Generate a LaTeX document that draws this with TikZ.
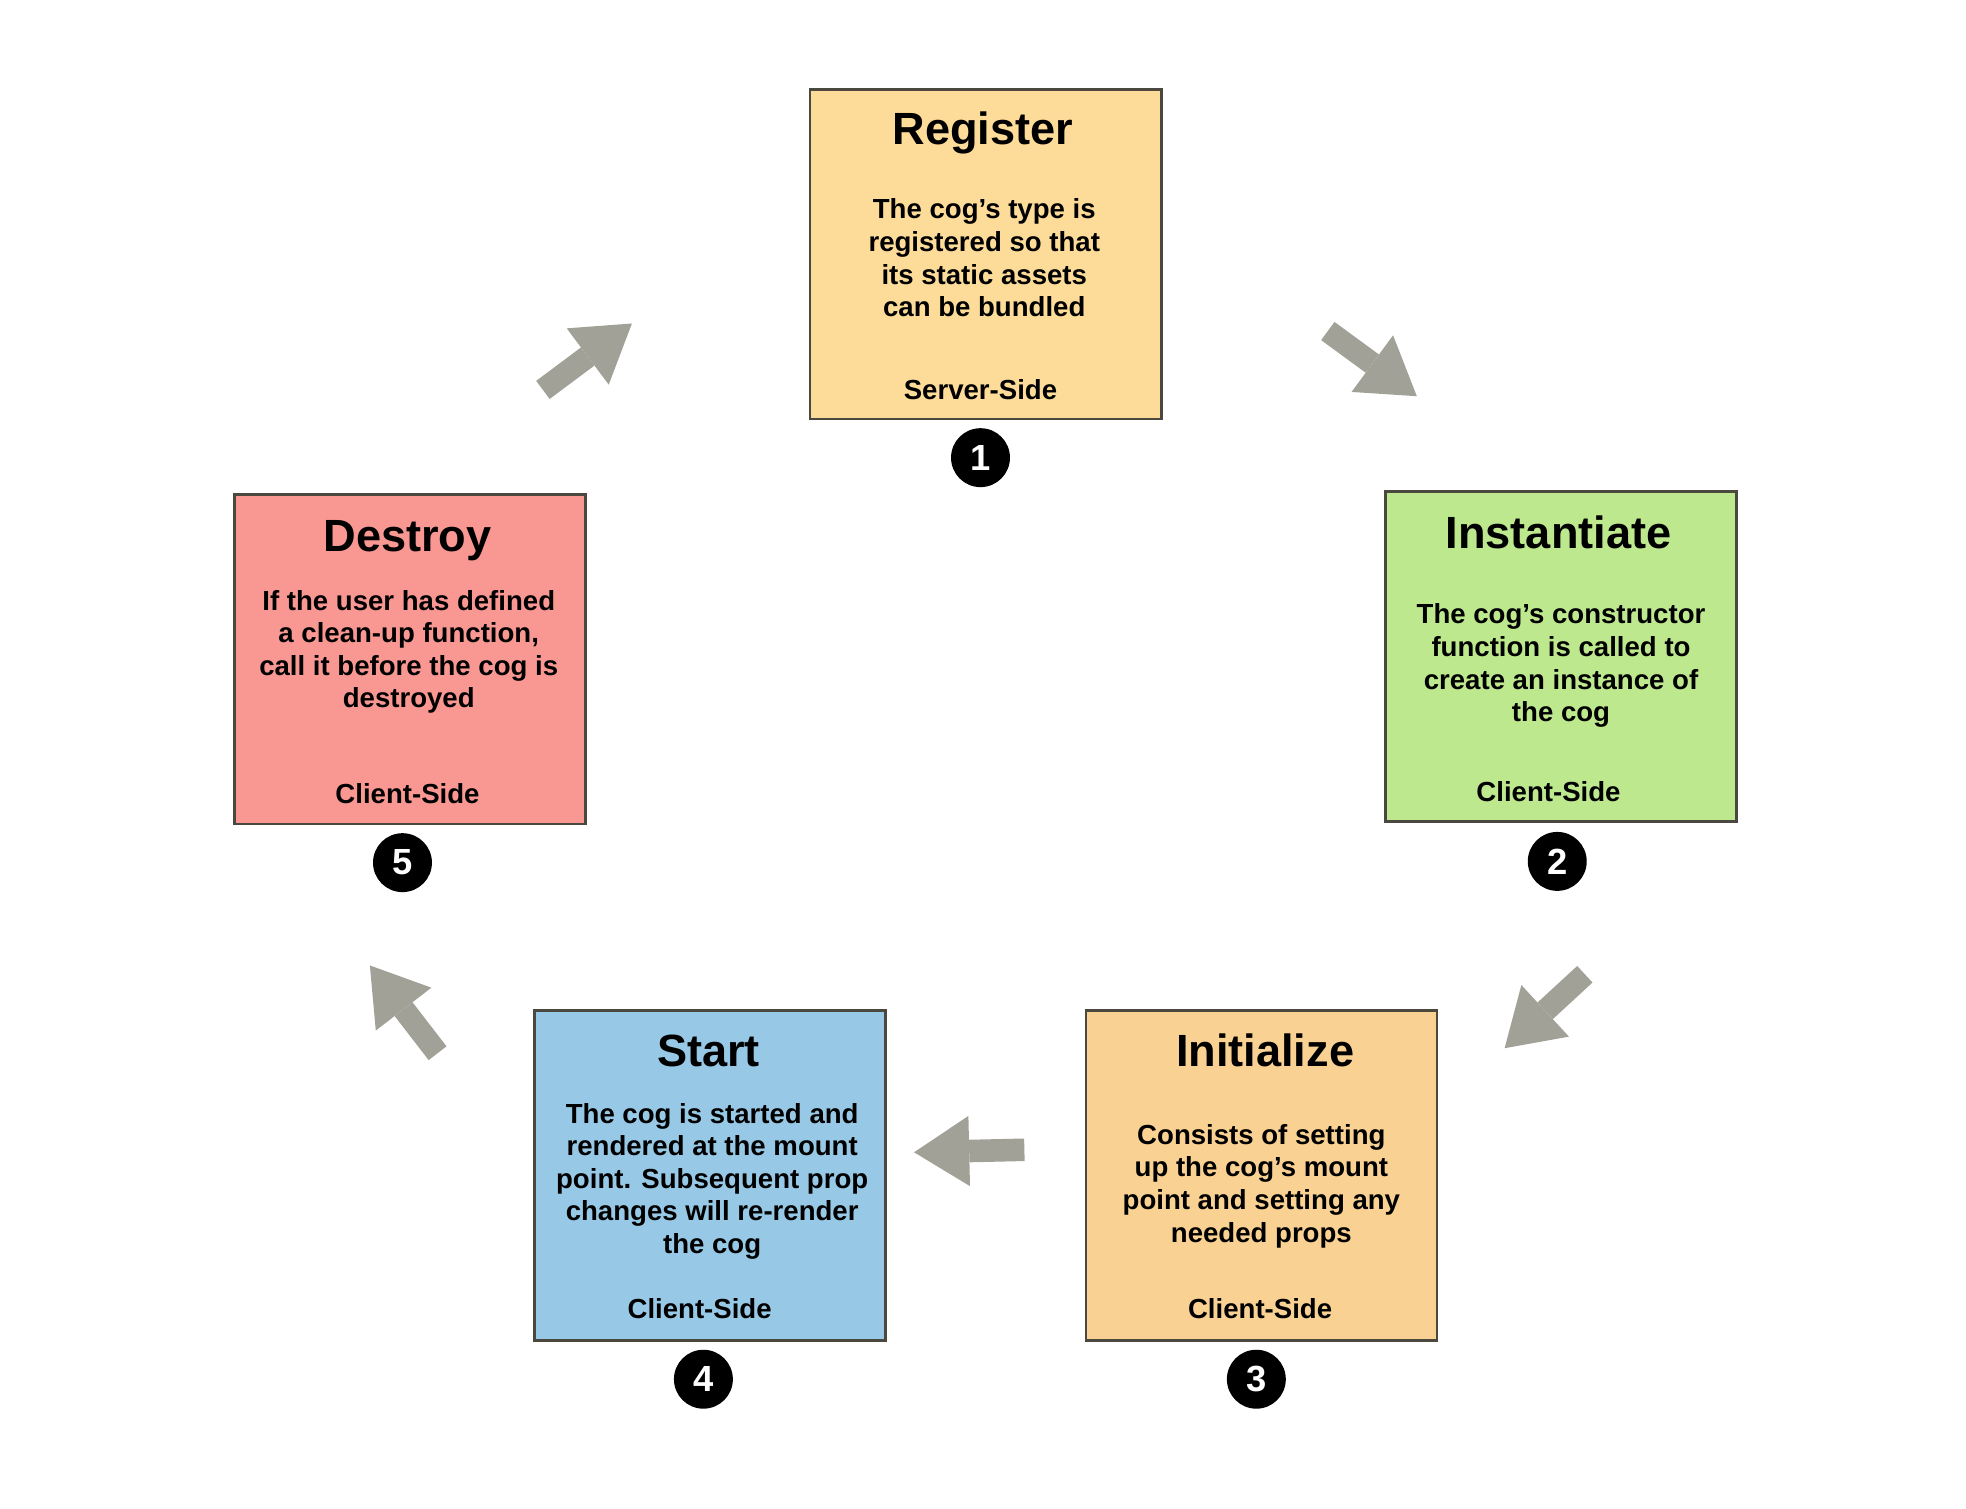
\documentclass[tikz,border=0pt]{standalone}
\usepackage{fontspec}
\setmainfont{Liberation Sans}
\usetikzlibrary{arrows.meta}
\definecolor{boxline}{HTML}{4B4840}
\definecolor{regfill}{HTML}{FDDC99}
\definecolor{instfill}{HTML}{BDE88E}
\definecolor{initfill}{HTML}{F9D192}
\definecolor{startfill}{HTML}{97C9E6}
\definecolor{destfill}{HTML}{F99893}
\definecolor{arrowgray}{HTML}{A2A197}
\begin{document}
\begin{tikzpicture}[x=1pt,y=-1pt,
  stagebox/.style={draw=boxline, line width=2.2pt, minimum width=280pt, minimum height=263pt, inner sep=0pt, anchor=north west},
  stagetitle/.style={font=\bfseries\fontsize{36}{40}\selectfont, anchor=base, inner sep=0pt, yshift=-1.5pt},
  stagebody/.style={font=\bfseries\fontsize{22}{26}\selectfont, align=center, anchor=north, inner sep=0pt, yshift=-1.5pt},
  stageside/.style={font=\bfseries\fontsize{22}{26}\selectfont, anchor=base, inner sep=0pt, yshift=-1.5pt},
  stagenum/.style={circle, fill=black, minimum size=47pt, inner sep=0pt, text=white, font=\bfseries\fontsize{29}{32}\selectfont},
  blockarrow/.style={draw=arrowgray, line width=18pt, -{Triangle[length=44pt,width=56pt,line width=0pt]}}]
\useasboundingbox (0,0) rectangle (1568,1203);

% Register
\node[stagebox, fill=regfill] (regbox) at (645,70) {};
\node[stagetitle] (regtitle) at (784,114) {Register};
\node[stagebody] (regbody) at (785,157) {The cog’s type is\\registered so that\\its static assets\\can be bundled};
\node[stageside] (regside) at (782,317) {Server-Side};
\node[stagenum] (num1) at (782,365) {1};

% Instantiate
\node[stagebox, fill=instfill] (instbox) at (1104,391) {};
\node[stagetitle] (insttitle) at (1243,436) {Instantiate};
\node[stagebody] (instbody) at (1245,480) {The cog’s constructor\\function is called to\\create an instance of\\the cog};
\node[stageside] (instside) at (1235,638) {Client-Side};
\node[stagenum] (num2) at (1242,687) {2};

% Initialize
\node[stagebox, fill=initfill] (initbox) at (865,805) {};
\node[stagetitle] (inittitle) at (1009,849) {Initialize};
\node[stagebody] (initbody) at (1006,895) {Consists of setting\\up the cog’s mount\\point and setting any\\needed props};
\node[stageside] (initside) at (1005,1050) {Client-Side};
\node[stagenum] (num3) at (1002,1100) {3};

% Start
\node[stagebox, fill=startfill] (startbox) at (425,805) {};
\node[stagetitle] (starttitle) at (565,849) {Start};
\node[stagebody] (startbody) at (568,878) {The cog is started and\\rendered at the mount\\point. Subsequent prop\\changes will re-render\\the cog};
\node[stageside] (startside) at (558,1050) {Client-Side};
\node[stagenum] (num4) at (561,1100) {4};

% Destroy
\node[stagebox, fill=destfill] (destbox) at (186,393) {};
\node[stagetitle] (desttitle) at (325,438) {Destroy};
\node[stagebody] (destbody) at (326,469) {If the user has defined\\a clean-up function,\\call it before the cog is\\destroyed};
\node[stageside] (destside) at (325,639) {Client-Side};
\node[stagenum] (num5) at (321,688) {5};

% Arrows
\coordinate (aAs) at (433,311); \coordinate (aAt) at (504,258);
\coordinate (aBs) at (1059,264); \coordinate (aBt) at (1130,316);
\coordinate (aCs) at (1264,777); \coordinate (aCt) at (1200,836);
\coordinate (aDs) at (817,917); \coordinate (aDt) at (729,919);
\coordinate (aEs) at (349,840); \coordinate (aEt) at (295,770);
\draw[blockarrow] (aAs) -- (aAt);
\draw[blockarrow] (aBs) -- (aBt);
\draw[blockarrow] (aCs) -- (aCt);
\draw[blockarrow] (aDs) -- (aDt);
\draw[blockarrow] (aEs) -- (aEt);
\end{tikzpicture}
\end{document}
